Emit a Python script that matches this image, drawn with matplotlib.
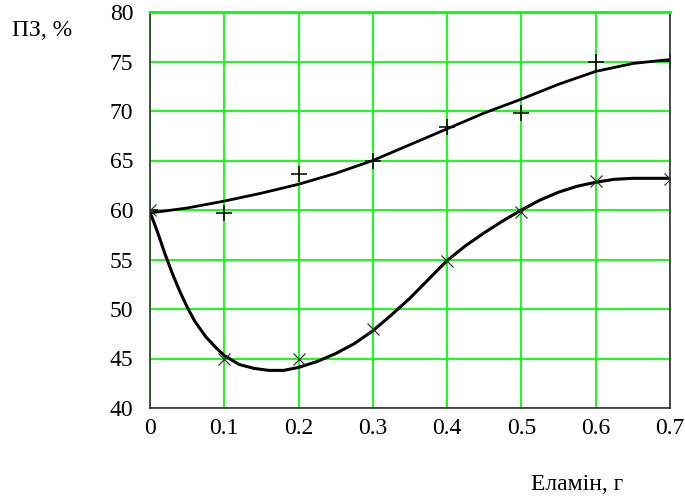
import matplotlib
matplotlib.use("Agg")
import matplotlib.pyplot as plt

plt.rcParams['font.family'] = ['Liberation Serif', 'DejaVu Serif']

# маркери (виміряні точки)
x_pts = [0, 0.1, 0.2, 0.3, 0.4, 0.5, 0.6, 0.7]
plus_pts = [60.0, 59.7, 63.6, 64.9, 68.4, 69.8, 74.9, 75.1]
cross_pts = [60.0, 44.9, 44.9, 48.0, 54.8, 59.8, 62.9, 63.1]

# лінії
x_upper = [0, 0.05, 0.1, 0.15, 0.2, 0.25, 0.3, 0.35, 0.4, 0.45, 0.5, 0.55, 0.6, 0.65, 0.7]
y_upper = [59.7, 60.2, 60.9, 61.7, 62.6, 63.7, 65.0, 66.6, 68.2, 69.8, 71.2, 72.7, 74.0, 74.8, 75.2]

x_lower = [0, 0.01, 0.02, 0.03, 0.04, 0.05, 0.06, 0.075, 0.09, 0.1, 0.12, 0.14, 0.16, 0.18,
           0.2, 0.225, 0.25, 0.275, 0.3, 0.325, 0.35, 0.375, 0.4, 0.425, 0.45, 0.475,
           0.5, 0.525, 0.55, 0.575, 0.6, 0.625, 0.65, 0.7]
y_lower = [59.8, 57.8, 55.6, 53.6, 51.8, 50.2, 48.8, 47.2, 46.0, 45.3, 44.4, 44.0, 43.8, 43.8,
           44.1, 44.7, 45.5, 46.5, 47.8, 49.4, 51.1, 53.0, 54.9, 56.4, 57.7, 58.9,
           60.0, 61.0, 61.8, 62.4, 62.8, 63.1, 63.2, 63.2]

x_ticks = [0, 0.1, 0.2, 0.3, 0.4, 0.5, 0.6, 0.7]
x_labels = ['0', '0.1', '0.2', '0.3', '0.4', '0.5', '0.6', '0.7']
y_ticks = [40, 45, 50, 55, 60, 65, 70, 75, 80]

fig = plt.figure(figsize=(6.85, 4.99), dpi=100)
ax = fig.add_axes([150 / 685, 1 - 408 / 499, 520 / 685, 396 / 499])

ax.set_xlim(0, 0.7)
ax.set_ylim(40, 80)
ax.set_xticks(x_ticks)
ax.set_xticklabels(x_labels)
ax.set_yticks(y_ticks)
ax.grid(True, color='#00ff00', linewidth=1.3)
ax.set_axisbelow(True)
ax.tick_params(length=0, labelsize=17, pad=7)
ax.tick_params(axis='y', pad=12)

for s in ax.spines.values():
    s.set_color('#333333')
    s.set_linewidth(1.2)
ax.spines['top'].set_color('#00ff00')
ax.spines['top'].set_linewidth(2)

ax.plot(x_upper, y_upper, color='black', linewidth=2.0, clip_on=True)
ax.plot(x_lower, y_lower, color='black', linewidth=2.2, clip_on=True)
ax.plot(x_pts, plus_pts, linestyle='none', marker='+', markersize=12,
        markeredgewidth=1.1, color='black', clip_on=True)
ax.plot(x_pts, cross_pts, linestyle='none', marker='x', markersize=8,
        markeredgewidth=0.9, color='#333333', clip_on=True)

fig.text(42 / 685, 1 - 30 / 499, 'ПЗ, %', fontsize=17, ha='center', va='center')
fig.text(577 / 685, 1 - 485 / 499, 'Еламін, г', fontsize=17, ha='center', va='center')

fig.savefig('out.png', dpi=100)
